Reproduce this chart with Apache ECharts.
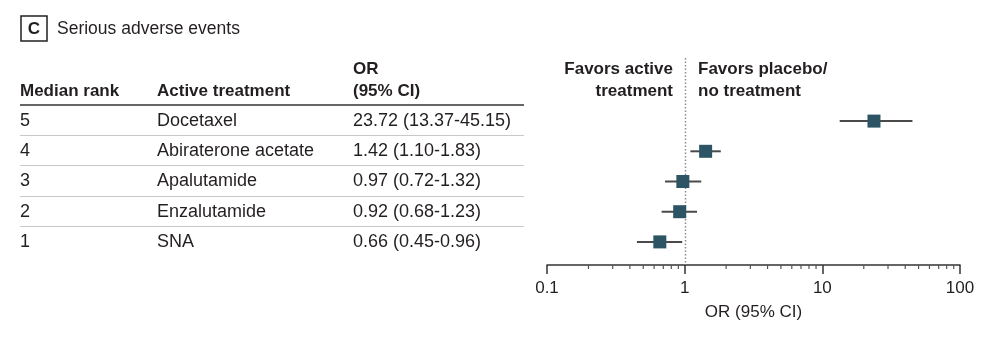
<!DOCTYPE html>
<html>
<head>
<meta charset="utf-8">
<style>
  html, body { margin: 0; padding: 0; background: #fff; }
  #chart { width: 1000px; height: 338px; }
</style>
<script src="https://cdn.jsdelivr.net/npm/echarts@6/dist/echarts.min.js"></script>
</head>
<body>
<div id="chart"></div>
<script>
// Serious adverse events: network meta-analysis odds ratios
const ranks = ['5', '4', '3', '2', '1'];
const treatments = ['Docetaxel', 'Abiraterone acetate', 'Apalutamide', 'Enzalutamide', 'SNA'];
const orValues = [23.72, 1.42, 0.97, 0.92, 0.66];
const ciLow = [13.37, 1.10, 0.72, 0.68, 0.45];
const ciHigh = [45.15, 1.83, 1.32, 1.23, 0.96];
const majorTicks = [0.1, 1, 10, 100];
const minorTicks = [0.2, 0.3, 0.4, 0.5, 0.6, 0.7, 0.8, 0.9,
                    2, 3, 4, 5, 6, 7, 8, 9,
                    20, 30, 40, 50, 60, 70, 80, 90];
const refValue = 1;

const FONT = '"Liberation Sans", Arial, sans-serif';
const INK = '#231f20';
const AXIS_OFFSET = 9;

const fmt = v => v.toFixed(2);
const orLabels = orValues.map((v, i) => fmt(v) + ' (' + fmt(ciLow[i]) + '-' + fmt(ciHigh[i]) + ')');

const chart = echarts.init(document.getElementById('chart'), null, { renderer: 'canvas' });

function axisY(coordSys) {
  return coordSys.y + coordSys.height + AXIS_OFFSET;
}

function boldText(x, y, s, align) {
  return { type: 'text', x: x, y: y,
    style: { text: s, fontFamily: FONT, fontSize: 17, fontWeight: 'bold', fill: INK,
             textAlign: align, textVerticalAlign: 'middle' } };
}

const option = {
  animation: false,
  backgroundColor: '#fff',
  textStyle: { fontFamily: FONT },
  grid: { left: 547, right: 40, top: 105, height: 151 },
  xAxis: {
    type: 'log',
    logBase: 10,
    min: majorTicks[0],
    max: majorTicks[majorTicks.length - 1],
    offset: AXIS_OFFSET,
    axisLine: { show: true, lineStyle: { color: '#333', width: 1.5 } },
    axisTick: { show: true, length: 9, lineStyle: { color: '#333', width: 1.5 } },
    axisLabel: {
      fontSize: 17, color: INK, margin: 15, fontFamily: FONT,
      formatter: v => String(v)
    },
    splitLine: { show: false },
    name: 'OR (95% CI)',
    nameLocation: 'middle',
    nameGap: 39,
    nameTextStyle: { fontSize: 17, color: INK, fontFamily: FONT }
  },
  yAxis: {
    type: 'category',
    data: treatments,
    inverse: true,
    show: false
  },
  graphic: [
    // panel letter box
    { type: 'rect', shape: { x: 21, y: 16, width: 26, height: 25 },
      style: { fill: '#fff', stroke: INK, lineWidth: 1.5 } },
    { type: 'text', x: 34, y: 29,
      style: { text: 'C', fontFamily: FONT, fontSize: 17, fontWeight: 'bold', fill: INK,
               textAlign: 'center', textVerticalAlign: 'middle' } },
    { type: 'text', x: 57, y: 29,
      style: { text: 'Serious adverse events', fontFamily: FONT, fontSize: 17.5, fill: INK,
               textAlign: 'left', textVerticalAlign: 'middle' } },
    // table header
    boldText(20, 91, 'Median rank', 'left'),
    boldText(157, 91, 'Active treatment', 'left'),
    boldText(353, 69, 'OR', 'left'),
    boldText(353, 91, '(95% CI)', 'left'),
    { type: 'line', shape: { x1: 20, y1: 105, x2: 524, y2: 105 },
      style: { stroke: '#333', lineWidth: 1.5 } },
    // direction labels
    boldText(673, 69, 'Favors active', 'right'),
    boldText(673, 91, 'treatment', 'right'),
    boldText(698, 69, 'Favors placebo/', 'left'),
    boldText(698, 91, 'no treatment', 'left')
  ],
  series: [
    // table rows: rank, treatment, OR text and separators
    {
      type: 'custom',
      clip: false,
      silent: true,
      data: treatments.map((t, i) => [refValue, i]),
      renderItem: (params, api) => {
        const i = params.dataIndex;
        const y = api.coord([refValue, i])[1] + 1;
        const band = api.size([0, 1])[1];
        const txt = (x, s) => ({
          type: 'text', x: x, y: y,
          style: { text: s, fontFamily: FONT, fontSize: 18, fill: INK,
                   textAlign: 'left', textVerticalAlign: 'middle' }
        });
        const children = [
          txt(20, ranks[i]),
          txt(157, treatments[i]),
          txt(353, orLabels[i])
        ];
        if (i < treatments.length - 1) {
          const ly = Math.round(y + band / 2) - 0.5;
          children.push({
            type: 'line',
            shape: { x1: 20, y1: ly, x2: 524, y2: ly },
            style: { stroke: '#c8c8c8', lineWidth: 1 }
          });
        }
        return { type: 'group', children: children };
      }
    },
    // reference line at OR = 1
    {
      type: 'custom',
      clip: false,
      silent: true,
      data: [[refValue, 0]],
      renderItem: (params, api) => {
        const x = Math.round(api.coord([refValue, 0])[0]) + 0.5;
        return {
          type: 'line',
          shape: { x1: x, y1: 58, x2: x, y2: axisY(params.coordSys) },
          style: { stroke: '#8a8a8a', lineWidth: 1.5, lineDash: [1.5, 2] }
        };
      }
    },
    // minor ticks between decades
    {
      type: 'custom',
      clip: false,
      silent: true,
      data: minorTicks.map(v => [v, 0]),
      renderItem: (params, api) => {
        const x = api.coord([api.value(0), 0])[0];
        const y0 = axisY(params.coordSys);
        return {
          type: 'line',
          shape: { x1: x, y1: y0, x2: x, y2: y0 + 4 },
          style: { stroke: '#555', lineWidth: 1.2 }
        };
      }
    },
    // odds ratios with 95% CI
    {
      type: 'custom',
      clip: false,
      data: orValues.map((v, i) => [v, i, ciLow[i], ciHigh[i]]),
      encode: { x: 0, y: 1 },
      renderItem: (params, api) => {
        const idx = api.value(1);
        const c = api.coord([api.value(0), idx]);
        const lo = api.coord([api.value(2), idx]);
        const hi = api.coord([api.value(3), idx]);
        const s = 13;
        const cy = c[1] + 1;
        return {
          type: 'group',
          children: [
            { type: 'line', shape: { x1: lo[0], y1: cy, x2: hi[0], y2: cy },
              style: { stroke: '#4a4a4a', lineWidth: 2 } },
            { type: 'rect', shape: { x: c[0] - s / 2, y: cy - s / 2, width: s, height: s },
              style: { fill: '#2d5464' } }
          ]
        };
      }
    }
  ]
};

chart.setOption(option);
</script>
</body>
</html>
